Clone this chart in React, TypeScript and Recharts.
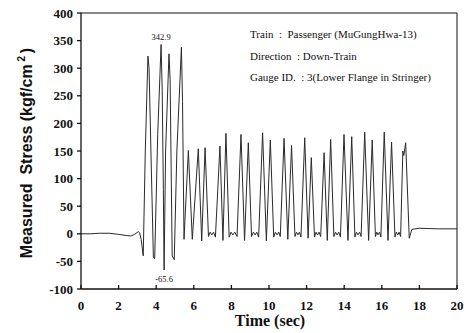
import {
  Line,
  LineChart,
  ReferenceDot,
  ReferenceLine,
  XAxis,
  YAxis,
} from "recharts";

// strain gauge record
const time = [
  0, 0.5, 1.0, 1.5, 2.0, 2.4, 2.65, 2.85, 3.05, 3.12, 3.2, 3.31,
  3.42, 3.56, 3.62, 3.72, 3.85, 3.92, 4.08, 4.26, 4.32, 4.38, 4.42,
  4.5, 4.68, 4.74, 4.85, 4.96, 5.1, 5.34, 5.4, 5.48,
  5.71, 5.92, 6.24, 6.42, 6.6,
  6.78, 6.87, 6.96, 7.05, 7.15,
  7.39, 7.55, 7.71,
  7.88, 7.98, 8.08, 8.18, 8.3,
  8.51, 8.7, 8.9,
  9.07, 9.17, 9.26, 9.35, 9.45,
  9.66, 9.86, 10.07,
  10.25, 10.34, 10.43, 10.52, 10.6,
  10.8, 11.0, 11.2,
  11.38, 11.46, 11.54, 11.62, 11.7,
  11.9, 12.08, 12.25,
  12.42, 12.5, 12.58, 12.66, 12.75,
  12.93, 13.1, 13.28,
  13.45, 13.54, 13.62, 13.71, 13.8,
  13.99, 14.2, 14.4,
  14.57, 14.65, 14.73, 14.82, 14.9,
  15.09, 15.3, 15.49,
  15.66, 15.73, 15.8, 15.88, 15.95,
  16.13, 16.33, 16.52,
  16.7, 16.77, 16.85, 16.92, 17.0,
  17.12, 17.17, 17.27, 17.46, 17.6, 18, 19, 20,
];

const stress = [
  0, 0, 1, 1, -1, -3, -4, -1, 4, 2, -10, -40,
  150, 322, 300, 150, -42, -45, 180, 343, 260, 80, -65.6,
  150, 326, 280, -40, -47, 150, 338, 240, -10,
  151, -10, 154, -13, 156,
  -5, 3, -2, 3, -6,
  159, -12, 182,
  -6, 3, -2, 3, -5,
  180, -12, 165,
  -5, 3, -2, 3, -6,
  183, -13, 170,
  -6, 3, -2, 3, -5,
  173, -10, 160,
  -5, 3, -2, 3, -6,
  174, -8, 138,
  -6, 3, -2, 3, -5,
  147, -12, 171,
  -5, 3, -2, 3, -6,
  180, -12, 176,
  -6, 3, -2, 3, -5,
  184, -12, 170,
  -5, 3, -2, 3, -6,
  184, -12, 166,
  -6, 3, -2, 3, -5,
  150, 142, 165, -8, 8, 10, 9, 9,
];

const xTicks = [0, 2, 4, 6, 8, 10, 12, 14, 16, 18, 20];
const yTicks = [-100, -50, 0, 50, 100, 150, 200, 250, 300, 350, 400];

const notes = [
  "Train  :  Passenger (MuGungHwa-13)",
  "Direction  : Down-Train",
  "Gauge ID.  : 3(Lower Flange in Stringer)",
];

const maxPoint = { t: 4.26, s: 342.9 };
const minPoint = { t: 4.42, s: -65.6 };

const data = time.map((t, i) => ({ t, s: stress[i] }));

const serif = "'Liberation Serif', 'Times New Roman', serif";

export default function App() {
  return (
    <div
      style={{
        position: "absolute",
        left: 0,
        top: 0,
        width: 469,
        height: 333,
        background: "#fff",
      }}
    >
      <LineChart
        width={469}
        height={333}
        data={data}
        margin={{ top: 13, right: 12, bottom: 0, left: 0 }}
      >
        <XAxis
          dataKey="t"
          type="number"
          domain={[0, 20]}
          ticks={xTicks}
          height={44}
          stroke="#111"
          strokeWidth={1.3}
          tickSize={-4}
          tickMargin={16}
          tick={{ fill: "#111", fontSize: 13, fontWeight: "bold", fontFamily: serif }}
        />
        <YAxis
          type="number"
          domain={[-100, 400]}
          ticks={yTicks}
          width={81}
          stroke="#111"
          strokeWidth={1.3}
          tickSize={4}
          tickMargin={4}
          tick={{ fill: "#111", fontSize: 13, fontWeight: "bold", fontFamily: serif }}
        />
        <ReferenceLine y={400} stroke="#111" strokeWidth={1} />
        <ReferenceLine x={20} stroke="#111" strokeWidth={1} />
        <Line
          type="linear"
          dataKey="s"
          stroke="#2a2a2a"
          strokeWidth={1}
          dot={false}
          isAnimationActive={false}
        />
        <ReferenceDot
          x={maxPoint.t}
          y={maxPoint.s}
          r={1}
          fill="none"
          stroke="none"
          label={{
            value: maxPoint.s.toFixed(1),
            position: "top",
            offset: 4,
            fontSize: 8.5,
            fill: "#111",
            fontFamily: serif,
          }}
        />
        <ReferenceDot
          x={minPoint.t}
          y={minPoint.s}
          r={1}
          fill="none"
          stroke="none"
          label={{
            value: minPoint.s.toFixed(1),
            position: "bottom",
            offset: 5,
            fontSize: 8.5,
            fill: "#111",
            fontFamily: serif,
          }}
        />
      </LineChart>

      {notes.map((n, i) => (
        <div
          key={n}
          style={{
            position: "absolute",
            left: 250,
            top: 28 + i * 21.5,
            fontFamily: serif,
            fontSize: 11,
            color: "#111",
            whiteSpace: "pre",
            lineHeight: "13px",
          }}
        >
          {n}
        </div>
      ))}

      <div
        style={{
          position: "absolute",
          left: 26,
          top: 153,
          transform: "translate(-50%, -50%) rotate(-90deg)",
          fontFamily: "'Liberation Sans', Arial, sans-serif",
          fontWeight: "bold",
          fontSize: 16,
          whiteSpace: "nowrap",
          color: "#111",
        }}
      >
        Measured&nbsp; Stress (kgf/cm
        <sup style={{ fontSize: 10 }}> 2 </sup>)
      </div>

      <div
        style={{
          position: "absolute",
          left: 270,
          top: 321,
          transform: "translate(-50%, -50%)",
          fontFamily: serif,
          fontWeight: "bold",
          fontSize: 16,
          whiteSpace: "nowrap",
          color: "#111",
        }}
      >
        Time (sec)
      </div>
    </div>
  );
}
